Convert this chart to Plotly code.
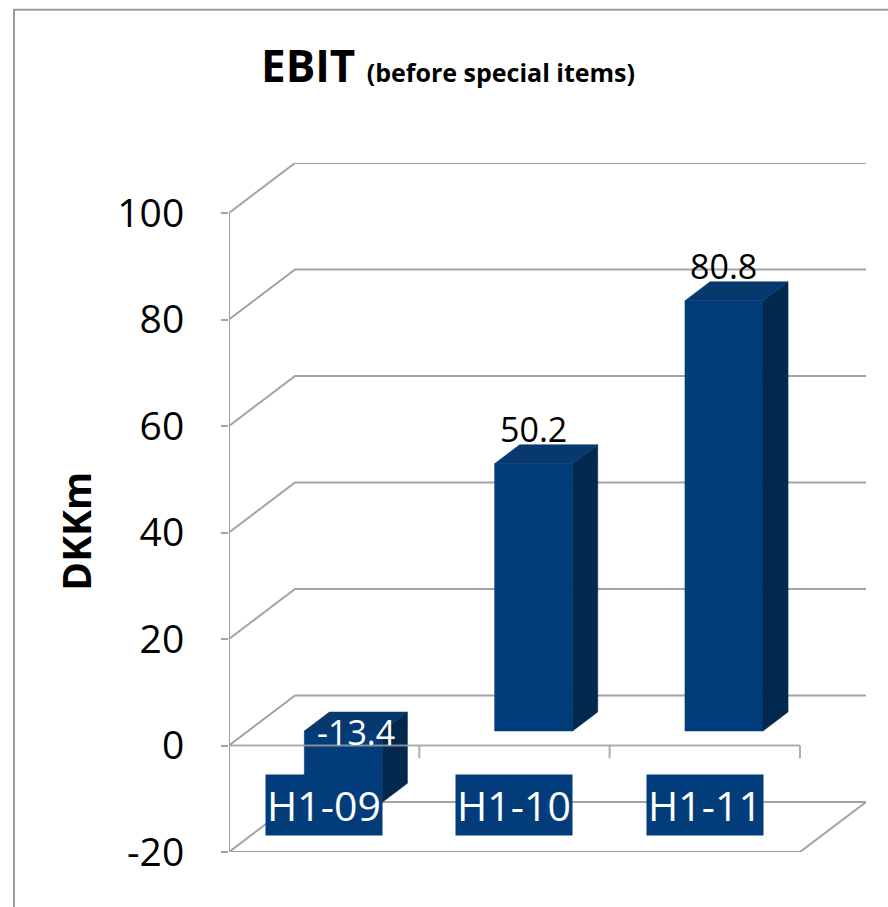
import plotly.graph_objects as go

# ---- data ----
categories = ["H1-09", "H1-10", "H1-11"]
values = [-13.4, 50.2, 80.8]
value_labels = ["-13.4", "50.2", "80.8"]
tick_values = [-20, 0, 20, 40, 60, 80, 100]
tick_labels = ["-20", "0", "20", "40", "60", "80", "100"]
title_main = "EBIT"
title_sub = "(before special items)"
y_title = "DKKm"

# ---- style / 3D geometry ----
Y_MIN, Y_MAX = -20, 100
DX = 0.347      # depth shift in category units
DY = 9.39       # depth shift in value units
F0, F1 = 0.29, 0.67   # bar front / back depth fractions
HW = 0.205      # half width of bar front face
GRID = "#a3a3a3"
FRONT = "#033c7b"
TOP = "#07396f"
SIDE = "#01294f"
FONT = "Open Sans"

n = len(categories)
x_left, x_right = -0.5, n - 0.5

fig = go.Figure()


def poly(xs, ys, color=None, fill=None, width=2):
    kw = dict(x=xs, y=ys, mode="lines", hoverinfo="skip", showlegend=False)
    if fill:
        kw.update(fill="toself", fillcolor=fill, line=dict(color=fill, width=0.5))
    else:
        kw.update(line=dict(color=color, width=width))
    fig.add_trace(go.Scatter(**kw))


# side wall + back wall gridlines
for t in tick_values:
    poly([x_left, x_left + DX, x_right + DX], [t, t + DY, t + DY], color=GRID)
# floor outline
poly([x_left, x_right, x_right + DX], [Y_MIN, Y_MIN, Y_MIN + DY], color=GRID)
# front vertical axis line
poly([x_left, x_left], [Y_MIN, Y_MAX], color=GRID)

# bars
a, b = F0 * DY, F1 * DY
d = (F1 - F0) * DX
for i, v in enumerate(values):
    cx = i + F0 * DX
    top, bot = max(0, v), min(0, v)
    poly([cx - HW, cx + HW, cx + HW, cx - HW, cx - HW],
         [bot + a, bot + a, top + a, top + a, bot + a], fill=FRONT)
    poly([cx + HW, cx + HW, cx + HW + d, cx + HW + d, cx + HW],
         [bot + a, top + a, top + b, bot + b, bot + a], fill=SIDE)
    poly([cx - HW, cx + HW, cx + HW + d, cx - HW + d, cx - HW],
         [top + a, top + a, top + b, top + b, top + a], fill=TOP)

# category axis at zero with tick marks
poly([x_left, x_right], [0, 0], color="rgba(160,160,160,0.85)")
tick_len = 2.4
for k in range(n + 1):
    xb = x_left + k
    poly([xb, xb], [0, -tick_len], color="rgba(160,160,160,0.85)")

annotations = []
# data labels
for i, v in enumerate(values):
    if v >= 0:
        annotations.append(dict(x=i + F0 * DX, y=v + b, xref="x", yref="y",
                                text=value_labels[i], showarrow=False,
                                yanchor="bottom", yshift=-9,
                                font=dict(family=FONT, size=34, color="black")))
    else:
        annotations.append(dict(x=i + (F0 + F1) / 2 * DX, y=(F0 + F1) / 2 * DY,
                                xref="x", yref="y",
                                text=value_labels[i], showarrow=False,
                                yanchor="middle", yshift=-10,
                                font=dict(family=FONT, size=34, color="white")))
# category labels (boxed)
for i, c in enumerate(categories):
    annotations.append(dict(x=i, y=Y_MIN + 8.8, xref="x", yref="y", text=c,
                            showarrow=False, bgcolor=FRONT, width=116, height=60,
                            borderpad=0, xanchor="center", yanchor="middle",
                            font=dict(family=FONT, size=41, color="white")))
# title
annotations.append(dict(xref="paper", yref="paper", x=0.047, y=1.142,
                        xanchor="left", yanchor="middle", showarrow=False,
                        text="<b>" + title_main + "</b> <b><span style='font-size:25px'>"
                        + title_sub + "</span></b>",
                        font=dict(family=FONT, size=44, color="black")))
# y title
annotations.append(dict(xref="paper", yref="paper", x=-0.2405, y=0.466,
                        xanchor="center", yanchor="middle", showarrow=False,
                        textangle=-90, text="<b>" + y_title + "</b>",
                        font=dict(family=FONT, size=39, color="black")))

fig.update_layout(
    width=888, height=907,
    margin=dict(l=229, r=22, t=163, b=55),
    paper_bgcolor="white", plot_bgcolor="white",
    font=dict(family=FONT, color="black"),
    showlegend=False,
    annotations=annotations,
    xaxis=dict(range=[x_left, x_right + DX], visible=False, fixedrange=True),
    yaxis=dict(range=[Y_MIN, Y_MAX + DY], tickvals=tick_values, ticktext=tick_labels,
               showgrid=False, zeroline=False, showline=False,
               ticks="outside", ticklen=7, tickwidth=2, tickcolor=GRID,
               ticklabelstandoff=29,
               tickfont=dict(family=FONT, size=39, color="black"), fixedrange=True),
    shapes=[dict(type="rect", xref="paper", yref="paper",
                 x0=-0.3375, x1=1.06, y0=-0.1, y1=1.2225,
                 line=dict(color="#9a9a9a", width=2), layer="below")],
)

fig.write_html("out.html")
